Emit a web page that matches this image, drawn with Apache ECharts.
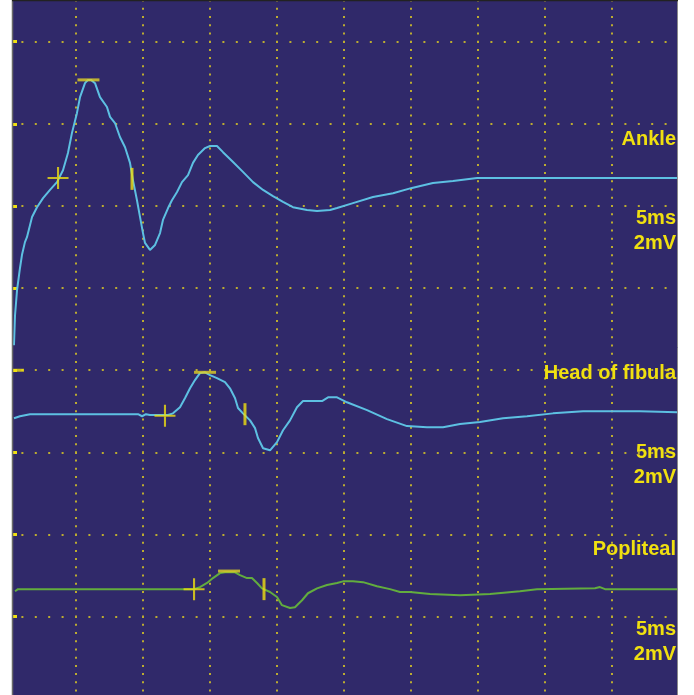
<!DOCTYPE html>
<html>
<head>
<meta charset="utf-8">
<script src="https://cdn.jsdelivr.net/npm/echarts@6/dist/echarts.min.js"></script>
<style>
  html, body { margin: 0; padding: 0; background: #fff; }
  #main { width: 694px; height: 695px; }
</style>
</head>
<body>
<div id="main"></div>
<script>
// time in ms, amplitude in mV relative to each trace's baseline
const ankleT = [0.37, 0.45, 0.60, 0.82, 0.97, 1.19, 1.34, 1.72, 2.09, 2.54, 3.06, 3.58, 4.03, 4.40, 4.70, 5.07, 5.30, 5.67, 5.90, 6.12, 6.42, 6.79, 7.31, 7.54, 7.91, 8.28, 8.66, 9.03, 9.25, 9.55, 9.78, 10.00, 10.15, 10.52, 10.90, 11.27, 11.49, 11.87, 12.16, 12.54, 12.91, 13.36, 13.73, 14.10, 14.63, 15.00, 15.52, 15.97, 16.72, 17.46, 18.21, 18.96, 19.70, 20.45, 21.19, 22.24, 22.99, 23.96, 24.48, 25.67, 27.16, 28.66, 30.07, 31.64, 33.13, 34.93, 49.85];
const ankleV = [-4.07, -3.34, -2.73, -2.19, -1.87, -1.56, -1.44, -0.95, -0.71, -0.49, -0.29, -0.10, 0.19, 0.61, 1.10, 1.58, 1.97, 2.31, 2.39, 2.39, 2.31, 1.97, 1.73, 1.49, 1.34, 1.00, 0.75, 0.37, -0.05, -0.54, -0.95, -1.34, -1.58, -1.75, -1.63, -1.34, -1.02, -0.73, -0.54, -0.34, -0.10, 0.07, 0.37, 0.56, 0.73, 0.78, 0.78, 0.63, 0.39, 0.15, -0.10, -0.29, -0.44, -0.58, -0.71, -0.78, -0.80, -0.78, -0.73, -0.61, -0.46, -0.37, -0.24, -0.12, -0.07, 0, 0];

const fibulaT = [0.37, 0.82, 1.57, 9.63, 9.93, 10.22, 10.52, 11.87, 12.24, 12.76, 13.13, 13.51, 13.88, 14.25, 14.63, 15.00, 15.52, 16.12, 16.49, 16.87, 17.09, 17.46, 17.99, 18.36, 18.58, 18.96, 19.48, 20.00, 20.45, 20.97, 21.49, 21.94, 23.36, 23.81, 24.48, 25.22, 26.72, 28.21, 29.70, 31.19, 32.39, 33.66, 35.15, 36.87, 38.66, 40.60, 42.84, 47.09, 49.85];
const fibulaV = [-0.10, -0.05, 0, 0, -0.05, 0, -0.02, -0.02, 0.02, 0.17, 0.39, 0.63, 0.83, 1.00, 1.02, 0.95, 0.88, 0.78, 0.63, 0.39, 0.15, 0.02, -0.15, -0.34, -0.58, -0.83, -0.88, -0.68, -0.39, -0.15, 0.17, 0.32, 0.32, 0.41, 0.41, 0.29, 0.10, -0.12, -0.29, -0.32, -0.32, -0.24, -0.19, -0.10, -0.05, 0.02, 0.07, 0.07, 0.05];

const poplitealT = [0.45, 0.67, 13.81, 14.25, 14.78, 15.22, 15.75, 16.12, 16.87, 17.24, 17.76, 18.13, 18.51, 18.88, 19.48, 20.00, 20.37, 20.97, 21.34, 21.87, 22.31, 22.99, 23.73, 24.48, 24.93, 25.67, 26.42, 27.46, 28.43, 29.18, 29.93, 31.42, 33.66, 35.90, 38.13, 39.40, 43.73, 44.10, 44.48, 45.60, 49.85];
const poplitealV = [-0.05, 0, 0, 0.05, 0.15, 0.27, 0.39, 0.41, 0.41, 0.34, 0.27, 0.27, 0.15, 0.02, -0.07, -0.19, -0.39, -0.46, -0.44, -0.27, -0.10, 0.02, 0.10, 0.15, 0.19, 0.19, 0.17, 0.07, 0, -0.07, -0.07, -0.12, -0.15, -0.12, -0.05, 0, 0.02, 0.05, 0, 0, 0];

const traceNames = ['Ankle', 'Head of fibula', 'Popliteal'];
const baselines = [12.68, 6.93, 2.67];
const sweepLabels = ['5ms', '5ms', '5ms'];
const gainLabels = ['2mV', '2mV', '2mV'];

// cursors: onset (+), peak (-), end (|)
const onsetT = [3.66, 11.64, 13.81];
const onsetV = [0, -0.04, 0];
const peakT = [5.93, 14.63, 16.42];
const peakV = [2.39, 1.02, 0.44];
const endT = [9.18, 17.61, 19.03];
const endV = [-0.02, 0, 0];

const refMark = [[0.67, 8]];

const traces = [[ankleT, ankleV], [fibulaT, fibulaV], [poplitealT, poplitealV]];
const traceColors = ['#5dc0e2', '#5dc0e2', '#62ad3e'];
const yellow = '#f0e010';
const dotColor = '#bcac30';

const chart = echarts.init(document.getElementById('main'));

const series = traces.map(([t, v], i) => ({
  name: traceNames[i],
  type: 'line',
  data: t.map((x, j) => [x, v[j] + baselines[i]]),
  showSymbol: false,
  lineStyle: { color: traceColors[i], width: 2 },
  z: 3
}));

const shift = (ts, vs) => ts.map((x, i) => [x, vs[i] + baselines[i]]);

series.push({
  type: 'scatter',
  data: shift(onsetT, onsetV),
  symbol: 'path://M9,0H11V10H20V12H11V22H9V12H0V10H9Z',
  symbolSize: [21, 22],
  itemStyle: { color: yellow },
  z: 5
});
series.push({
  type: 'scatter',
  data: shift(peakT, peakV),
  symbol: 'rect',
  symbolSize: [22, 3],
  itemStyle: { color: '#e2d224' },
  z: 5
});
series.push({
  type: 'scatter',
  data: shift(endT, endV),
  symbol: 'rect',
  symbolSize: [3, 22],
  itemStyle: { color: yellow },
  z: 5
});
series.push({
  type: 'scatter',
  data: refMark,
  symbol: 'rect',
  symbolSize: [12, 3],
  itemStyle: { color: yellow },
  z: 5
});

// right-side text blocks
const labelRows = [[139, 218, 243], [373, 452, 477], [549, 629, 654]];
const texts = [];
traceNames.forEach((name, i) => {
  [name, sweepLabels[i], gainLabels[i]].forEach((s, k) => {
    texts.push({
      type: 'text',
      z: 200,
      style: {
        text: s,
        x: 676,
        y: labelRows[i][k],
        align: 'right',
        verticalAlign: 'middle',
        font: 'bold 20px "Liberation Sans", Arial, sans-serif',
        fill: yellow
      }
    });
  });
});

const option = {
  animation: false,
  backgroundColor: '#30296a',
  grid: { left: 9, right: 15, top: -40.44, bottom: -3.8, outerBoundsMode: 'none' },
  xAxis: {
    type: 'value',
    min: 0,
    max: 50,
    interval: 5,
    axisLine: { show: false },
    axisTick: { show: false },
    axisLabel: { show: false },
    splitLine: {
      show: true,
      lineStyle: { color: dotColor, width: 2, type: [2, 6.213], dashOffset: 1 }
    }
  },
  yAxis: {
    type: 'value',
    min: 0,
    max: 18,
    interval: 2,
    axisLine: { show: false },
    axisLabel: { show: false },
    axisTick: {
      show: true,
      inside: true,
      length: 8,
      lineStyle: { color: yellow, width: 3 }
    },
    splitLine: {
      show: true,
      lineStyle: { color: dotColor, width: 2, type: [2, 11.4], dashOffset: 1 }
    }
  },
  graphic: [
    { type: 'rect', z: 100, shape: { x: 0, y: 0, width: 12, height: 695 }, style: { fill: '#ffffff' } },
    { type: 'rect', z: 100, shape: { x: 678, y: 0, width: 16, height: 695 }, style: { fill: '#ffffff' } },
    { type: 'line', z: 101, shape: { x1: 12.5, y1: 0, x2: 12.5, y2: 695 }, style: { stroke: '#6a6a6a', lineWidth: 1.5 } },
    { type: 'line', z: 101, shape: { x1: 677.5, y1: 0, x2: 677.5, y2: 695 }, style: { stroke: '#8a8a8a', lineWidth: 1 } },
    { type: 'line', z: 101, shape: { x1: 12, y1: 0.5, x2: 678, y2: 0.5 }, style: { stroke: '#222222', lineWidth: 1.5 } }
  ].concat(texts),
  series: series
};

chart.setOption(option);
</script>
</body>
</html>
